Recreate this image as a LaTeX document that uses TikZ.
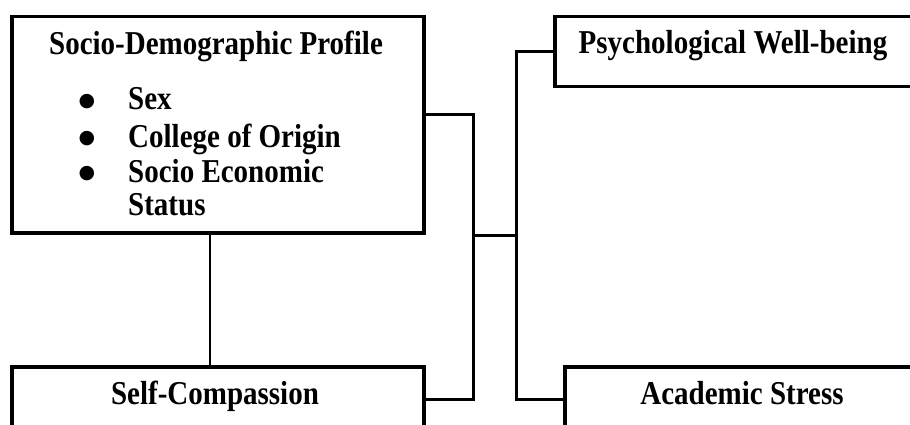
\documentclass[tikz,border=0pt]{standalone}
\usepackage{fontspec}
\setmainfont{Liberation Serif}
\newfontfamily\symfont{DejaVu Sans}
\usetikzlibrary{calc}
\newcommand{\tall}[1]{\scalebox{1}[1.15]{#1}}

\begin{document}
\begin{tikzpicture}[x=1pt, y=-1pt,
        box/.style={draw, rectangle, line width=3.5pt, inner sep=0pt, anchor=north west},
        label/.style={anchor=base, inner sep=0pt, font=\fontsize{29}{34}\selectfont\bfseries},
        dot/.style={anchor=center, inner sep=0pt, font=\fontsize{19}{19}\selectfont\symfont},
        link/.style={line width=3pt}]
        \useasboundingbox (0,0) rectangle (910,425);
        \clip (0,0) rectangle (910,425);
        % boxes
        \node[box, minimum width=412pt, minimum height=216pt] (sdp) at (10,15) {};
        \node[box, minimum width=412pt, minimum height=100pt] (sc) at (10,365) {};
        \node[box, minimum width=420pt, minimum height=70pt] (pw) at (553,15) {};
        \node[box, minimum width=420pt, minimum height=100pt] (as) at (563,365) {};
        % texts
        \node[label] (sdptitle) at (216,55) {\tall{Socio-Demographic Profile}};
        \foreach \y/\t [count=\i] in {110/Sex, 147/College of Origin, 182/Socio Economic}{
            \node[dot] (bul\i) at (87,\y-8) {●};
            \node[label, anchor=base west] (item\i) at (128,\y) {\tall{\t}};
        }
        \node[label, anchor=base west] (item4) at (128,215) {\tall{Status}};
        \node[label] (pwtext) at (733,54) {\tall{Psychological Well-being}};
        \node[label] (sctext) at (215,404) {\tall{Self-Compassion}};
        \node[label] (astext) at (742,404) {\tall{Academic Stress}};
        % connectors
        \coordinate (ja) at (473,115);
        \coordinate (jb) at (473,399);
        \coordinate (jc) at (516,235);
        \draw[line width=2.5pt] ([xshift=-8pt]sdp.south) -- ([xshift=-8pt]sc.north);
        \draw[link] (sdp.east |- ja) -- (ja) -- (jb) -- (sc.east |- jb);
        \draw[link] (ja |- jc) -- (jc);
        \draw[link] (pw.west) -| (jc) |- (as.west |- jb);
    \end{tikzpicture}
\end{document}
